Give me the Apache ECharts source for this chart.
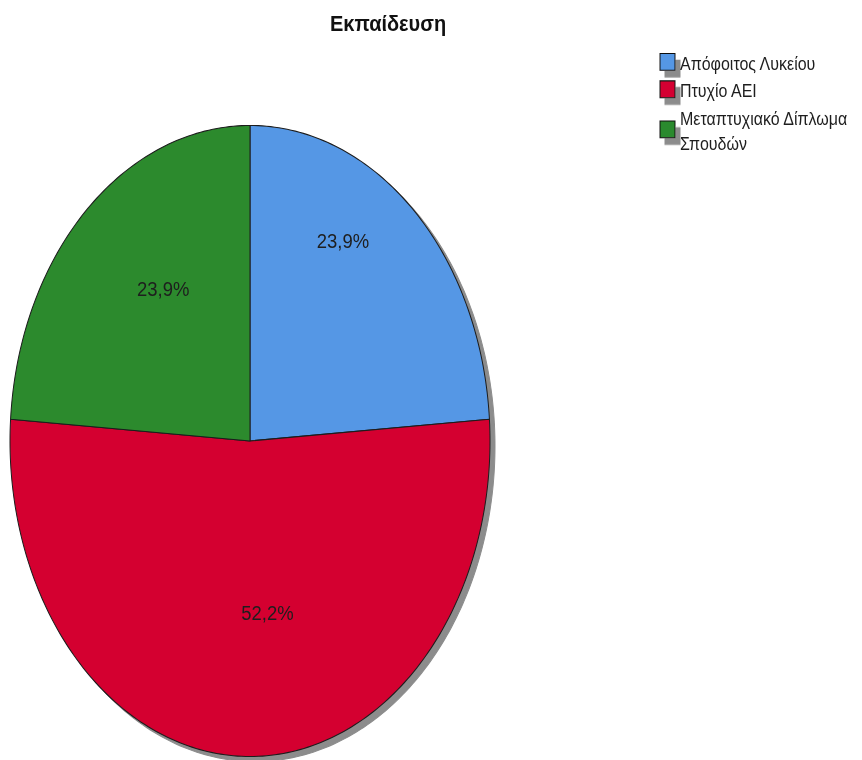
<!DOCTYPE html>
<html>
<head>
<meta charset="utf-8">
<title>Εκπαίδευση</title>
<script src="https://cdn.jsdelivr.net/npm/echarts@6/dist/echarts.min.js"></script>
<style>
  html, body { margin: 0; padding: 0; background: #ffffff; overflow: hidden; }
  #wrap { width: 862px; height: 760px; overflow: hidden; }
  /* the whole drawing is stretched vertically a little */
  #chart { width: 862px; height: 678.57px; transform: scaleY(1.12); transform-origin: 0 0; }
</style>
</head>
<body>
<div id="wrap"><div id="chart"></div></div>
<script>
// Education level of respondents (percent of cases)
const categories = ['Απόφοιτος Λυκείου', 'Πτυχίο ΑΕΙ', 'Μεταπτυχιακό Δίπλωμα\nΣπουδών'];
const percents = [23.9, 52.2, 23.9];
const colors = ['#5597e5', '#d40030', '#2c8a2d'];

// slice geometry (elliptical pie) and label anchors inside each slice
const pieLayout = { cx: 250, cy: 393.75, rx: 240, ry: 281.7 };
const shadowOffset = [5, 4.5];
// label anchor per slice: angle shift from the slice middle (deg) and radius fraction
const labelAnchor = [
  { shift: -11.6, r: 0.743 },
  { shift: -7.6, r: 0.550 },
  { shift: 6.2, r: 0.603 }
];

const total = percents.reduce((s, v) => s + v, 0);
const formatPct = v => v.toFixed(1).replace('.', ',') + '%';

function sliceAngles(i) {
  let before = 0;
  for (let k = 0; k < i; k++) before += percents[k];
  const start = before / total * Math.PI * 2;
  const end = (before + percents[i]) / total * Math.PI * 2;
  return [start, end];
}

function slicePoints(start, end, dx, dy) {
  const { cx, cy, rx, ry } = pieLayout;
  const pts = [[cx + dx, cy + dy]];
  const steps = Math.max(8, Math.ceil((end - start) / (Math.PI / 180)));
  for (let s = 0; s <= steps; s++) {
    const t = start + (end - start) * s / steps;
    pts.push([cx + dx + rx * Math.sin(t), cy + dy - ry * Math.cos(t)]);
  }
  return pts;
}

function renderShadow(params, api) {
  const i = params.dataIndex;
  const [start, end] = sliceAngles(i);
  return {
    type: 'polygon',
    shape: { points: slicePoints(start, end, shadowOffset[0], shadowOffset[1]) },
    style: { fill: '#8c8c8c', stroke: '#8c8c8c', lineWidth: 1 }
  };
}

function renderSlice(params, api) {
  const i = params.dataIndex;
  const value = api.value(0);
  const [start, end] = sliceAngles(i);
  const { cx, cy, rx, ry } = pieLayout;
  const mid = (start + end) / 2 + labelAnchor[i].shift * Math.PI / 180;
  const lx = cx + labelAnchor[i].r * rx * Math.sin(mid);
  const ly = cy - labelAnchor[i].r * ry * Math.cos(mid);
  return {
    type: 'group',
    children: [
      {
        type: 'polygon',
        shape: { points: slicePoints(start, end, 0, 0) },
        style: { fill: colors[i], stroke: '#1c1c1c', lineWidth: 1, lineJoin: 'round' }
      },
      {
        type: 'text',
        x: lx,
        y: ly,
        z2: 10,
        style: {
          text: formatPct(value),
          fill: '#1e1e1e',
          font: '18.5px "Liberation Sans", Arial, sans-serif',
          align: 'center',
          verticalAlign: 'middle'
        }
      }
    ]
  };
}

// legend built from the category list
const legendX = 660, legendTextX = 680, legendTop = 46, lineH = 22.5, itemGap = 2, box = 15;
const legendItems = [];
let cursor = legendTop;
categories.forEach((name, i) => {
  const lines = name.split('\n').length;
  const h = lines * lineH;
  const centre = cursor + h / 2;
  legendItems.push({
    type: 'rect',
    shape: { x: legendX, y: centre - 2 - box / 2, width: box, height: box },
    style: {
      fill: colors[i], stroke: '#111', lineWidth: 1,
      shadowColor: '#8c8c8c', shadowOffsetX: 5, shadowOffsetY: 6, shadowBlur: 0
    }
  });
  legendItems.push({
    type: 'text',
    x: legendTextX,
    y: centre,
    style: {
      text: name,
      fill: '#1e1e1e',
      font: '16px "Liberation Sans", Arial, sans-serif',
      lineHeight: lineH,
      align: 'left',
      verticalAlign: 'middle'
    }
  });
  cursor += h + itemGap;
});

const chart = echarts.init(document.getElementById('chart'), null, { renderer: 'svg' });
chart.setOption({
  animation: false,
  backgroundColor: '#ffffff',
  title: {
    text: 'Εκπαίδευση',
    left: 383,
    top: 6,
    textAlign: 'center',
    textStyle: { fontFamily: '"Liberation Sans", Arial, sans-serif', fontSize: 20, fontWeight: 'bold', color: '#111' }
  },
  graphic: legendItems,
  series: [
    {
      type: 'custom',
      name: 'shadow',
      coordinateSystem: 'none',
      silent: true,
      z: 1,
      renderItem: renderShadow,
      data: percents.map(v => [v])
    },
    {
      type: 'custom',
      name: 'Εκπαίδευση',
      coordinateSystem: 'none',
      z: 2,
      renderItem: renderSlice,
      data: percents.map((v, i) => ({ name: categories[i], value: [v] }))
    }
  ]
});
</script>
</body>
</html>
